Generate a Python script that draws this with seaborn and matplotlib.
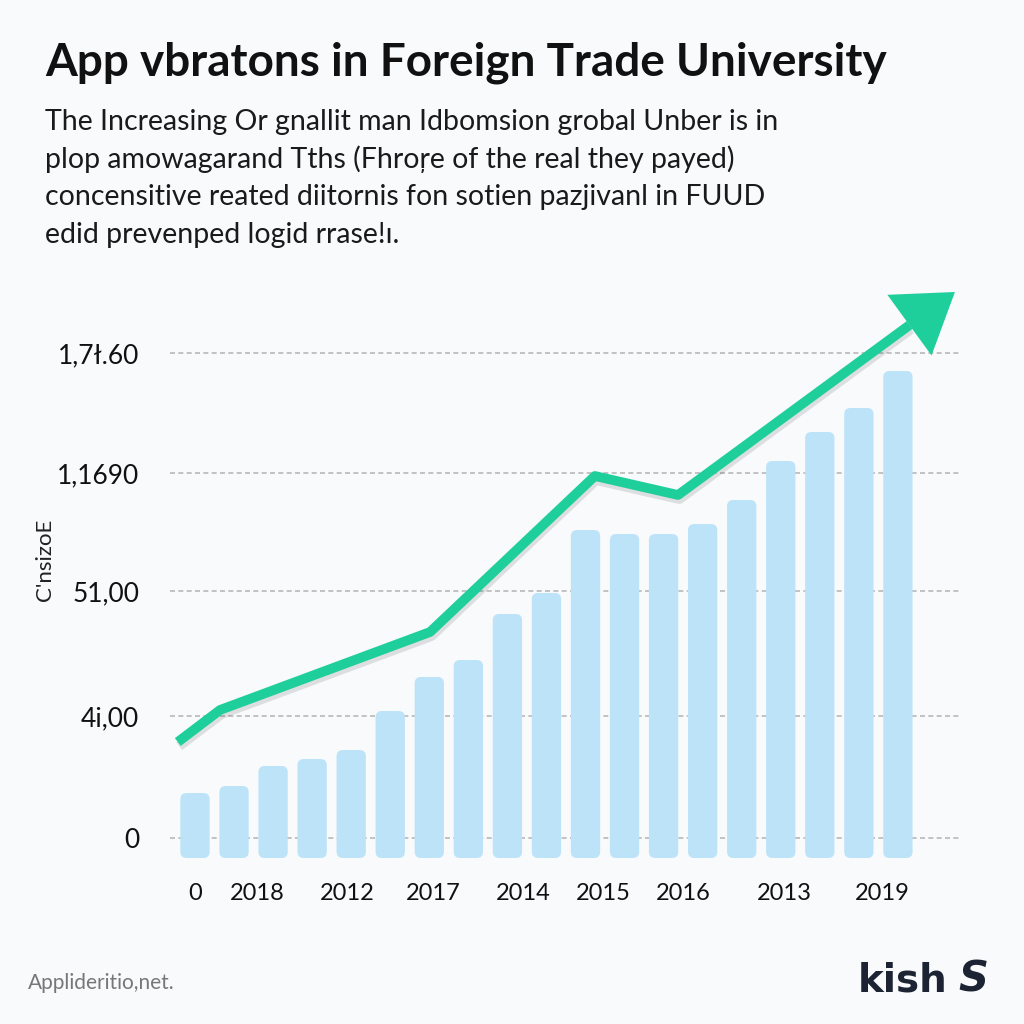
import numpy as np
import pandas as pd
import seaborn as sns
import matplotlib.pyplot as plt
from matplotlib.patches import FancyBboxPatch
import matplotlib.patheffects as pe

# bar heights (arbitrary units)
bar_idx = list(range(19))
bar_vals = [65, 72, 92, 99, 108, 147, 181, 198, 244, 265,
            328, 324, 324, 334, 358, 397, 426, 450, 487]

# green trend line
line_x = [-0.44, 0.64, 6.02, 10.24, 12.37, 18.3]
line_y = [116, 148, 226, 382, 363, 533]
arrow_tip = (19.46, 566)

ytick_pos = [20, 142, 267, 385, 505]
ytick_lbl = ['0', '4i,00', '51,00', '1,1690', '1,7ł.60']
xtick_pos = [0, 1.6, 3.9, 6.1, 8.4, 10.45, 12.5, 15.1, 17.6]
xtick_lbl = ['0', '2018', '2012', '2017', '2014', '2015', '2016', '2013', '2019']

title = 'App vbratons in Foreign Trade University'
subtitle = ['The Increasing Or gnallit man Idbomsion grobal Unber is in',
            'plop amowagarand Tths (Fhroŗe of the real they payed)',
            'concensitive reated diitornis fon sotien pazjivanl in FUUD',
            'edid prevenped logid rrase!ı.']
ylabel = "C'nsizoE"
footer = 'Applideritio,net.'

sns.set_theme(style='white')
plt.rcParams['font.family'] = ['Lato', 'DejaVu Sans']

bar_color = '#bde3f9'
green = '#1fcf9b'

fig = plt.figure(figsize=(10.24, 10.24), dpi=100, facecolor='#f8fafc')
ax = fig.add_axes([170 / 1024, 166 / 1024, 790 / 1024, 578 / 1024])
ax.set_facecolor('none')

df = pd.DataFrame({'idx': bar_idx, 'val': bar_vals})
sns.barplot(data=df, x='idx', y='val', native_scale=True, width=0.75,
            color=bar_color, saturation=1, ax=ax, zorder=2)

# swap plain bars for rounded ones
for p in list(ax.patches):
    x, y, w, h = p.get_x(), p.get_y(), p.get_width(), p.get_height()
    p.remove()
    ax.add_patch(FancyBboxPatch((x, y), w, h,
                                boxstyle='round,pad=0,rounding_size=0.16',
                                mutation_aspect=39, fc=bar_color, ec='none', zorder=2))

sns.lineplot(x=line_x, y=line_y, sort=False, color=green, lw=7, ax=ax, zorder=4,
             solid_capstyle='butt',
             path_effects=[pe.SimpleLineShadow(offset=(1, -3), alpha=0.12), pe.Normal()])
ax.annotate('', xy=arrow_tip, xytext=(line_x[-1], line_y[-1]),
            arrowprops=dict(arrowstyle='-|>,head_length=1.35,head_width=0.9',
                            mutation_scale=30, color=green, lw=0,
                            shrinkA=0, shrinkB=0), zorder=5)

ax.set_xlim(-0.64, 19.59)
ax.set_ylim(0, 578)
ax.set_yticks(ytick_pos, ytick_lbl)
ax.set_xticks(xtick_pos, xtick_lbl)
for yv in ytick_pos:
    ax.axhline(yv, color='#b8b8b8', lw=1.2, ls=(0, (3, 2)), zorder=1)
ax.tick_params(axis='y', length=0, pad=22, labelsize=19, labelcolor='#111111')
ax.tick_params(axis='x', length=0, pad=18, labelsize=17, labelcolor='#111111')
ax.set_xlabel('')
ax.set_ylabel('')
sns.despine(ax=ax, left=True, bottom=True)

fig.text(45 / 1024, 1 - 560 / 1024, ylabel, rotation=90, ha='center', va='center',
         fontsize=16, color='#222222')

fig.text(45 / 1024, 1 - 63 / 1024, title, ha='left', va='center',
         fontsize=33, fontweight='bold', color='#111111')
for i, line in enumerate(subtitle):
    fig.text(45 / 1024, 1 - (122 + i * 37.5) / 1024, line, ha='left', va='center',
             fontsize=20.5, color='#1a1a1a')

fig.text(28 / 1024, 1 - 983 / 1024, footer, ha='left', va='center',
         fontsize=15, color='#777777')
fig.text(858 / 1024, 1 - 980 / 1024, 'kish', ha='left', va='center',
         fontsize=28, fontweight='heavy', color='#1c2433', family=['DejaVu Sans'])
fig.text(958 / 1024, 1 - 980 / 1024, 'S', ha='left', va='center', style='italic',
         fontsize=30, fontweight='heavy', color='#1c2433', family=['DejaVu Sans'])

fig.savefig('out.png', dpi=100, facecolor=fig.get_facecolor())
